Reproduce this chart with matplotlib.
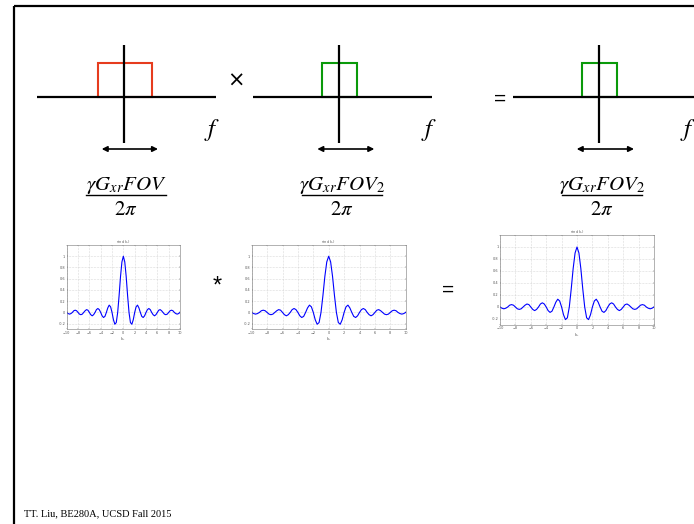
import numpy as np
import matplotlib
matplotlib.use("Agg")
import matplotlib.pyplot as plt
from matplotlib.patches import Rectangle
from matplotlib.ticker import FormatStrFormatter

plt.rcParams['mathtext.fontset'] = 'stix'

# ---- data ----
sinc_vals = [0.0, -0.02, -0.03, -0.02, 0.0, 0.03, 0.04, 0.03, 0.0, -0.03, -0.04, -0.03,
             0.0, 0.03, 0.05, 0.04, 0.0, -0.04, -0.06, -0.04, 0.0, 0.05, 0.07, 0.05,
             0.0, -0.06, -0.09, -0.07, 0.0, 0.08, 0.13, 0.10, 0.0, -0.13, -0.21, -0.18,
             0.0, 0.30, 0.64, 0.90, 1.0, 0.90, 0.64, 0.30, 0.0, -0.18, -0.21, -0.13,
             0.0, 0.10, 0.13, 0.08, 0.0, -0.07, -0.09, -0.06, 0.0, 0.05, 0.07, 0.05,
             0.0, -0.04, -0.06, -0.04, 0.0, 0.04, 0.05, 0.03, 0.0, -0.03, -0.04, -0.03,
             0.0, 0.03, 0.04, 0.03, 0.0, -0.02, -0.03, -0.02, 0.0]
k_range = [-10, 10]
xticks = [-10, -8, -6, -4, -2, 0, 2, 4, 6, 8, 10]
yticks = [-0.2, 0, 0.2, 0.4, 0.6, 0.8, 1]
sinc_title = r'sinc(k$_y$)'
sinc_xlabel = r'k$_x$'
numerators = [r'$\gamma G_{xr}FOV$', r'$\gamma G_{xr}FOV_2$', r'$\gamma G_{xr}FOV_2$']
denominator = r'$2\pi$'
footer = 'TT. Liu, BE280A, UCSD Fall 2015'

W, H = 694, 524
fig = plt.figure(figsize=(W / 100, H / 100), dpi=100)
ax = fig.add_axes([0, 0, 1, 1])
ax.set_xlim(0, W)
ax.set_ylim(H, 0)
ax.axis('off')

# slide border
ax.plot([14, 14], [H, 6], color='black', lw=1.6, solid_capstyle='butt')
ax.plot([14, W], [6, 6], color='black', lw=1.6, solid_capstyle='butt')

red = '#e63c1e'
green = '#0a9a0a'
panels = [
    dict(hx=(37, 216), vx=124.3, rect=(97.7, 151.7), col=red, arr=(101.7, 158), fx=212, cx=126),
    dict(hx=(253.3, 432.3), vx=339.5, rect=(322.3, 357.3), col=green, arr=(317.3, 374.3), fx=429, cx=342),
    dict(hx=(513.3, 694), vx=599.5, rect=(581.7, 617), col=green, arr=(576.7, 634), fx=688, cx=602),
]
for i, p in enumerate(panels):
    r0, r1 = p['rect']
    ax.add_patch(Rectangle((r0, 62.5), r1 - r0, 97.2 - 62.5, fill=False,
                           edgecolor=p['col'], lw=1.5))
    ax.plot(p['hx'], [97.2, 97.2], color='black', lw=1.6, solid_capstyle='butt')
    ax.plot([p['vx'], p['vx']], [45, 143], color='black', lw=1.6, solid_capstyle='butt')
    ax.annotate('', xy=(p['arr'][1], 149), xytext=(p['arr'][0], 149),
                arrowprops=dict(arrowstyle='<|-|>', lw=1.2, color='black',
                                mutation_scale=8, shrinkA=0, shrinkB=0))
    ax.text(p['fx'], 130, r'$f$', fontsize=18, ha='center', va='center')
    ax.text(p['cx'], 186, numerators[i], fontsize=15, ha='center', va='center')
    ax.plot([p['cx'] - 40, p['cx'] + 40], [194.5, 194.5], color='black', lw=1.0)
    ax.text(p['cx'], 209, denominator, fontsize=15, ha='center', va='center')

ax.text(236, 81, '×', fontsize=15, ha='center', va='center', family='DejaVu Sans')
ax.text(500, 99, '=', fontsize=15, ha='center', va='center', family='Liberation Sans')
ax.text(217, 287, '*', fontsize=17, ha='center', va='center', family='Liberation Sans')
ax.text(448, 290, '=', fontsize=15, ha='center', va='center', family='Liberation Sans')

ax.text(24, 516, footer, fontsize=7.5, ha='left', va='baseline', family='Liberation Serif')

# sinc inset plots
boxes = [(66.7, 245, 180, 329.3), (251.7, 245, 405.7, 329.3), (500, 235, 654, 325)]
kx = np.linspace(k_range[0], k_range[1], len(sinc_vals))
for (l, t, r, b) in boxes:
    a = fig.add_axes([l / W, (H - b) / H, (r - l) / W, (b - t) / H])
    a.plot(kx, sinc_vals, color='#0000ff', lw=0.8)
    a.set_xlim(-10, 10)
    a.set_ylim(-0.3, 1.2)
    a.set_xticks(xticks)
    a.set_yticks(yticks)
    a.yaxis.set_major_formatter(FormatStrFormatter('%g'))
    a.tick_params(labelsize=2.5, length=1, width=0.3, direction='in', pad=1,
                  top=True, right=True, colors='#555555')
    a.grid(True, linestyle=':', color='#bbbbbb', lw=0.4)
    for s in a.spines.values():
        s.set_linewidth(0.4)
        s.set_color('#777777')
    a.set_title(sinc_title, fontsize=2.5, pad=1, color='#555555')
    a.set_xlabel(sinc_xlabel, fontsize=3, labelpad=0.5, color='#555555')

fig.savefig('out.png', dpi=100)
